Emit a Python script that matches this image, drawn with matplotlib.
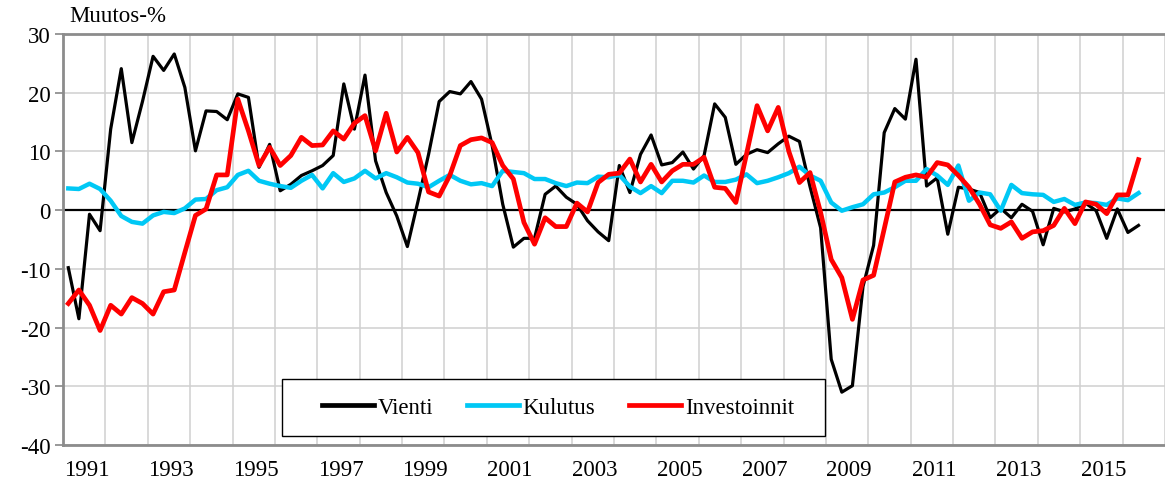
import numpy as np
import matplotlib
matplotlib.use("Agg")
import matplotlib.pyplot as plt
from matplotlib.patches import Rectangle

# Quarterly change-%, 1991Q1 .. 2016Q2
vienti = [
    -9.8, -18.5, -0.7, -3.5, 13.8, 24.1, 11.5, 18.5, 26.2, 23.8,
    26.6, 20.9, 10.1, 16.9, 16.8, 15.4, 19.8, 19.2, 7.3, 11.2,
    3.3, 4.4, 5.9, 6.7, 7.6, 9.3, 21.5, 13.8, 23.0, 8.4,
    3.0, -1.0, -6.2, 1.5, 9.5, 18.5, 20.2, 19.8, 21.9, 18.9,
    11.0, 1.0, -6.3, -4.8, -4.8, 2.7, 4.1, 2.2, 1.0, -1.8,
    -3.7, -5.2, 7.6, 3.0, 9.5, 12.8, 7.7, 8.1, 9.9, 7.0,
    9.3, 18.1, 15.8, 7.8, 9.5, 10.3, 9.8, 11.3, 12.6, 11.7,
    4.0, -3.0, -25.4, -31.0, -29.9, -13.0, -6.0, 13.2, 17.3, 15.5,
    25.7, 4.1, 5.5, -4.1, 3.9, 3.6, 3.0, -1.3, 0.3, -1.3,
    1.0, -0.2, -5.9, 0.3, -0.3, 0.2, 1.2, -0.1, -4.8, 0.2,
    -3.8, -2.6,
]
kulutus = [
    3.7, 3.6, 4.5, 3.6, 1.6, -1.0, -2.0, -2.3, -0.9, -0.3,
    -0.5, 0.3, 1.8, 1.9, 3.4, 3.9, 6.0, 6.7, 5.0, 4.5,
    4.1, 3.8, 5.0, 6.0, 3.7, 6.3, 4.8, 5.4, 6.7, 5.4,
    6.3, 5.6, 4.7, 4.5, 3.9, 5.0, 6.0, 5.0, 4.4, 4.6,
    4.1, 6.7, 6.5, 6.3, 5.3, 5.3, 4.6, 4.1, 4.7, 4.6,
    5.7, 5.6, 6.0, 4.0, 2.9, 4.1, 2.9, 5.0, 5.0, 4.7,
    5.9, 4.8, 4.8, 5.2, 6.1, 4.6, 5.0, 5.6, 6.3, 7.4,
    5.9, 5.0, 1.3, -0.1, 0.5, 1.0, 2.7, 3.0, 3.9, 5.0,
    5.0, 7.0, 5.9, 4.3, 7.6, 1.6, 3.0, 2.7, -0.1, 4.3,
    2.9, 2.7, 2.6, 1.4, 1.9, 0.9, 1.3, 1.2, 0.9, 2.0,
    1.7, 2.9,
]
investoinnit = [
    -15.9, -13.6, -16.2, -20.5, -16.2, -17.7, -14.9, -15.9, -17.7, -13.9,
    -13.6, -7.2, -0.9, 0.2, 6.0, 6.0, 18.9, 13.5, 7.6, 10.7,
    7.6, 9.3, 12.4, 11.0, 11.1, 13.5, 12.1, 14.8, 16.1, 10.1,
    16.5, 9.9, 12.4, 9.8, 3.1, 2.4, 5.9, 11.0, 12.0, 12.3,
    11.5, 7.6, 5.3, -2.1, -5.8, -1.3, -2.8, -2.8, 1.2, -0.3,
    4.7, 6.1, 6.3, 8.7, 4.8, 7.8, 4.8, 6.7, 7.8, 7.8,
    9.0, 3.9, 3.7, 1.3, 9.5, 17.8, 13.5, 17.5, 10.0, 4.7,
    6.4, -0.4, -8.4, -11.5, -18.6, -11.9, -11.1, -3.2, 4.8, 5.6,
    6.0, 5.6, 8.1, 7.7, 5.9, 3.9, 1.0, -2.5, -3.1, -2.0,
    -4.8, -3.7, -3.5, -2.6, 0.3, -2.3, 1.4, 1.0, -0.6, 2.6,
    2.6, 8.6,
]
series_names = ["Vienti", "Kulutus", "Investoinnit"]
year_labels = list(range(1991, 2016, 2))

first_year = 1991
x = first_year + (np.arange(len(vienti)) + 0.5) / 4

plt.rcParams["font.family"] = ["Liberation Serif", "DejaVu Serif"]
FS = 16.5

fig = plt.figure(figsize=(11.65, 4.89), dpi=100)
ax = fig.add_axes([63 / 1165, 1 - 446 / 489, 1 - 63 / 1165, (446 - 35) / 489])

ax.plot(x, vienti, color="black", lw=2.3, label=series_names[0], zorder=3)
ax.plot(x, kulutus, color="#00c8f5", lw=3.2, label=series_names[1], zorder=3)
ax.plot(x, investoinnit, color="#ff0000", lw=3.4, label=series_names[2], zorder=4)
ax.axhline(0, color="black", lw=1.6, zorder=2)

ax.set_xlim(first_year, 2017)
ax.set_ylim(-40, 30)
ax.set_yticks(range(-40, 31, 10))
ax.set_yticklabels([str(v) for v in range(-40, 31, 10)], fontsize=FS)

ax.set_xticks(range(1991, 2018))
ax.set_xticklabels([])
ax.set_xticks([y + 0.55 for y in year_labels], minor=True)
ax.set_xticklabels([str(y) for y in year_labels], minor=True, fontsize=FS)
ax.tick_params(axis="x", which="both", length=0, pad=10)
ax.tick_params(axis="y", length=6, width=1.2, color="#888888", pad=3)

ax.grid(True, which="major", color="#d0d0d0", lw=1.1, zorder=0)
ax.set_axisbelow(True)
for side in ["left", "top", "bottom"]:
    ax.spines[side].set_color("#8c8c8c")
    ax.spines[side].set_linewidth(2)
ax.spines["right"].set_visible(False)

fig.text(69 / 1165, 1 - 16 / 489, "Muutos-%", fontsize=FS, va="center", ha="left")

# legend box drawn separately so the padding matches the original
box_x0, box_x1 = (282 - 63) / 1102, (825 - 63) / 1102
box_y0, box_y1 = (446 - 437) / 411, (446 - 380) / 411
ax.add_patch(Rectangle((box_x0, box_y0), box_x1 - box_x0, box_y1 - box_y0,
                       transform=ax.transAxes, facecolor="white",
                       edgecolor="black", lw=1.0, zorder=5))
leg = ax.legend(loc="center", bbox_to_anchor=((box_x0 + box_x1) / 2 + 0.004, (box_y0 + box_y1) / 2),
                ncol=3, fontsize=FS, frameon=False,
                handlelength=2.3, handletextpad=0.15, columnspacing=1.45,
                borderpad=0, borderaxespad=0)
leg.set_zorder(6)
for line in leg.get_lines():
    line.set_linewidth(3.4)

fig.savefig("out.png", dpi=100)
